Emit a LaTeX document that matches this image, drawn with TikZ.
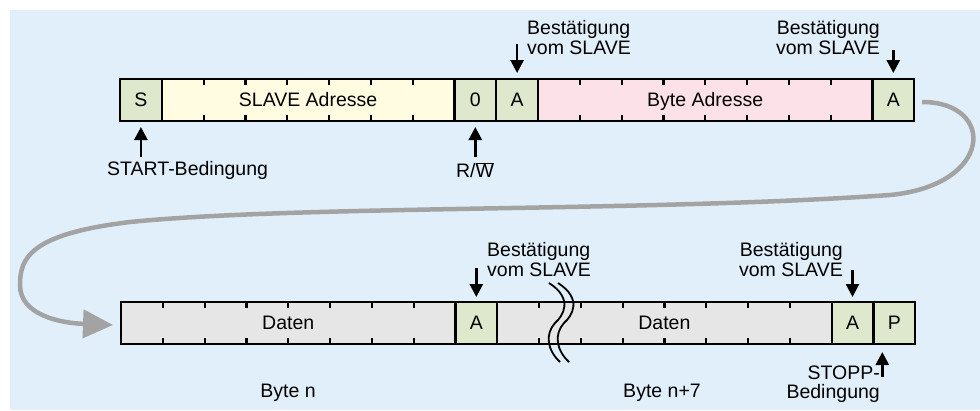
\documentclass[tikz,border=0pt]{standalone}
\usepackage{fontspec}
\setmainfont{Liberation Sans}
\usetikzlibrary{positioning,arrows.meta}

\definecolor{bgblue}{HTML}{E1EFFB}
\definecolor{bitgreen}{HTML}{DDE8CC}
\definecolor{adryellow}{HTML}{FFFCE1}
\definecolor{bytepink}{HTML}{FCE1E8}
\definecolor{datagrey}{HTML}{E6E6E6}
\definecolor{backgrey}{HTML}{A3A3A3}
\newcommand{\bw}{41.8pt}

\tikzset{
  cell/.style={draw, line width=2.2pt, minimum height=42pt, minimum width=#1*\bw,
    inner sep=0pt, outer sep=0pt, text height=13.5pt, text depth=0pt},
  note/.style={inner sep=0pt},
  bittick/.style={line width=2.2pt},
  ackarrow/.style={line width=2.6pt, -{Triangle[length=13pt,width=13pt]}},
  flowback/.style={line width=4.5pt, backgrey, -{Triangle[length=30pt,width=28pt]}},
  breakline/.style={line width=1.8pt}
}

\begin{document}
\begin{tikzpicture}[x=1pt, y=-1pt, node distance=0pt, every node/.append style={font=\fontsize{19.5}{19.5}\selectfont}]
  \useasboundingbox (0,0) rectangle (980,410);
  \fill[bgblue] (10,10) rectangle (980,410);

  % erste Zeile
  \node[cell=1, fill=bitgreen] (s) at (140.9,100) {S};
  \node[cell=7, fill=adryellow, right=of s] (sladr) {SLAVE Adresse};
  \node[cell=1, fill=bitgreen, right=of sladr] (rw) {0};
  \node[cell=1, fill=bitgreen, right=of rw] (ack1) {A};
  \node[cell=8, fill=bytepink, right=of ack1] (bytadr) {Byte Adresse};
  \node[cell=1, fill=bitgreen, right=of bytadr] (ack2) {A};

  \foreach \i in {1,...,6} {
    \draw[bittick] ([xshift=\i*\bw]sladr.north west) -- ++(0,6);
    \draw[bittick] ([xshift=\i*\bw]sladr.south west) -- ++(0,-6);
  }
  \foreach \i in {1,...,7} {
    \draw[bittick] ([xshift=\i*\bw]bytadr.north west) -- ++(0,6);
    \draw[bittick] ([xshift=\i*\bw]bytadr.south west) -- ++(0,-6);
  }

  % zweite Zeile
  \node[cell=8, fill=datagrey] (daten1) at (288.2,323) {Daten};
  \node[cell=1, fill=bitgreen, right=of daten1] (ack3) {A};
  \node[cell=8, fill=datagrey, right=of ack3] (daten2) {Daten};
  \node[cell=1, fill=bitgreen, right=of daten2] (ack4) {A};
  \node[cell=1, fill=bitgreen, right=of ack4] (stopp) {P};

  \foreach \i in {1,...,7} {
    \draw[bittick] ([xshift=\i*\bw]daten1.north west) -- ++(0,6);
    \draw[bittick] ([xshift=\i*\bw]daten1.south west) -- ++(0,-6);
    \draw[bittick] ([xshift=\i*\bw]daten2.north west) -- ++(0,6);
    \draw[bittick] ([xshift=\i*\bw]daten2.south west) -- ++(0,-6);
  }

  % Unterbrechung
  \draw[breakline] (549,283) .. controls (574,299) and (563,316) .. (555,323) .. controls (545,334) and (547,350) .. (560,362);
  \draw[breakline] (558,283) .. controls (583,299) and (572,316) .. (564,323) .. controls (554,334) and (556,350) .. (569,362);

  % Beschriftungen
  \node[note, anchor=west, align=left] (bst1) at (527,37.5) {Best\"atigung\\vom SLAVE};
  \node[note, anchor=east, align=right] (bst2) at (880,37.5) {Best\"atigung\\vom SLAVE};
  \node[note, anchor=west] (start) at (107,170) {START-Bedingung};
  \node[note] (rwlbl) at (475,170) {R/$\overline{\hbox{W}}$};
  \node[note, anchor=west, align=left] (bst3) at (487,259.5) {Best\"atigung\\vom SLAVE};
  \node[note, anchor=east, align=right] (bst4) at (843,259.5) {Best\"atigung\\vom SLAVE};
  \node[note, anchor=east, align=right] (stopplbl) at (880,384) {STOPP-\\Bedingung};
  \node[note] (byten) at (288,393) {Byte n};
  \node[note] (byten7) at (662,393) {Byte n+7};

  % Pfeile
  \coordinate (ack1in) at ([yshift=35pt]ack1.north);
  \coordinate (ack2in) at ([yshift=29pt]ack2.north);
  \coordinate (startin) at ([yshift=-36pt]s.south);
  \coordinate (rwin) at ([yshift=-36pt]rw.south);
  \coordinate (ack3in) at ([yshift=34pt]ack3.north);
  \coordinate (ack4in) at ([yshift=32pt]ack4.north);
  \coordinate (stoppin) at ([xshift=-12pt,yshift=-33pt]stopp.south);
  \draw[ackarrow] (ack1in) -- ([yshift=6pt]ack1.north);
  \draw[ackarrow] (ack2in) -- ([yshift=6pt]ack2.north);
  \draw[ackarrow] (startin) -- ([yshift=-6pt]s.south);
  \draw[ackarrow] (rwin) -- ([yshift=-6pt]rw.south);
  \draw[ackarrow] (ack3in) -- ([yshift=5pt]ack3.north);
  \draw[ackarrow] (ack4in) -- ([yshift=5pt]ack4.north);
  \draw[ackarrow] (stoppin) -- ([xshift=-12pt,yshift=-8pt]stopp.south);

  % Rueckfuehrung
  \draw[flowback] ([xshift=8pt,yshift=-2pt]ack2.east) .. controls (996,102) and (994,185) .. (890,195)
    .. controls (650,212) and (300,205) .. (130,222)
    .. controls (30,234) and (20,258) .. (20,285)
    .. controls (20,315) and (60,323) .. ([xshift=-8pt,yshift=-2pt]daten1.west);
\end{tikzpicture}
\end{document}
